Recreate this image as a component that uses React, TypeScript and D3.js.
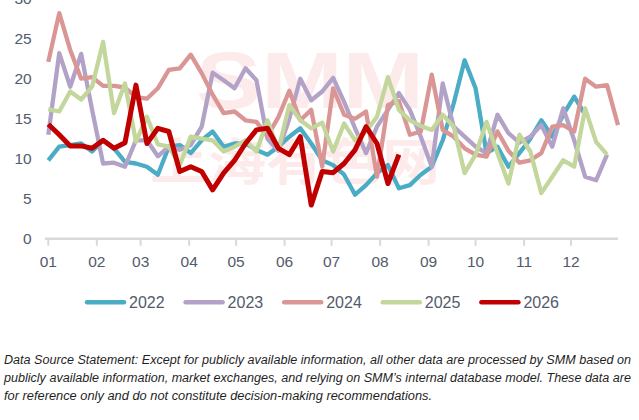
import React from 'react';
import * as d3 from 'd3';

// ---- data ----
const monthLabels = ['01', '02', '03', '04', '05', '06', '07', '08', '09', '10', '11', '12'];
const monthStartDays = [0, 31, 59, 90, 120, 151, 181, 212, 243, 273, 304, 334];
const yTicks = [0, 5, 10, 15, 20, 25, 30];
const seriesNames = ['2022', '2023', '2024', '2025', '2026'];
const seriesColors = ['#4BACC6', '#B3A2C7', '#D99694', '#C3D69B', '#C00000'];

const s2022 = [9.8, 11.5, 11.7, 11.9, 10.9, 12.3, 11.3, 9.6, 9.4, 9.0, 8.0, 11.5, 11.7, 10.7, 12.3, 13.4, 11.5, 11.9, 11.9, 11.1, 10.5, 11.5, 12.75, 13.8, 11.9, 9.8, 9.2, 8.0, 5.5, 6.7, 8.2, 9.2, 6.3, 6.7, 8.0, 9.0, 12.3, 16.9, 22.3, 18.8, 10.7, 11.5, 9.0, 10.7, 12.5, 14.8, 12.75, 15.5, 17.75, 15.5];
const s2023 = [13.0, 23.2, 19.0, 23.1, 16.1, 9.4, 9.5, 9.0, 12.3, 12.3, 10.3, 11.5, 11.1, 11.7, 14.0, 20.75, 19.8, 18.8, 21.3, 19.8, 12.5, 11.0, 15.0, 20.0, 17.3, 18.4, 20.1, 17.1, 13.8, 10.7, 14.0, 16.1, 18.2, 16.1, 12.75, 9.0, 19.4, 14.0, 12.75, 11.5, 10.7, 15.5, 13.2, 12.0, 12.75, 14.2, 11.5, 16.3, 12.3, 7.75, 7.3, 10.5];
const s2024 = [22.1, 28.2, 23.6, 20.0, 20.2, 19.1, 19.1, 18.9, 17.7, 17.5, 18.8, 21.1, 21.3, 23.0, 20.7, 18.0, 15.7, 15.9, 14.8, 14.6, 12.8, 15.2, 18.5, 14.8, 16.1, 9.0, 18.8, 15.5, 15.0, 15.9, 7.75, 16.7, 17.2, 13.0, 13.4, 20.5, 13.6, 12.75, 11.3, 10.5, 10.25, 13.4, 11.0, 9.5, 9.8, 10.7, 14.0, 14.2, 13.4, 20.0, 19.0, 19.2, 14.2];
const s2025 = [16.2, 15.9, 18.4, 17.4, 19.0, 24.6, 15.7, 19.4, 12.1, 15.25, 11.8, 11.5, 9.2, 12.75, 12.5, 12.3, 10.9, 11.5, 12.3, 10.9, 14.8, 11.1, 16.7, 14.8, 13.8, 14.5, 10.9, 14.4, 12.3, 13.4, 15.25, 20.2, 16.1, 14.8, 14.1, 13.6, 15.5, 14.0, 8.2, 10.5, 14.6, 10.7, 6.9, 13.0, 10.9, 5.7, 7.75, 9.8, 9.0, 16.3, 12.1, 10.5];
const s2026 = [14.3, 13.0, 11.6, 11.6, 11.3, 12.3, 11.3, 12.0, 19.2, 11.9, 13.8, 13.4, 8.4, 9.0, 8.4, 6.1, 8.2, 9.8, 11.9, 13.6, 13.8, 11.3, 10.5, 12.75, 4.2, 8.4, 8.25, 9.4, 11.1, 14.0, 11.9, 6.9, 10.5];

const allSeries = [s2022, s2023, s2024, s2025, s2026];

const footnoteLines = [
  'Data Source Statement: Except for publicly available information, all other data are processed by SMM based on',
  "publicly available information, market exchanges, and relying on SMM\u2019s internal database model. These data are",
  'for reference only and do not constitute decision-making recommendations.',
];

const W = 639;
const H = 420;
const FONT = '"Liberation Sans", Arial, sans-serif';
const TEXT_COLOR = '#525b6b';

export default function App() {
  const x = d3.scaleLinear().domain([0, 364]).range([48.3, 618]);
  const y = d3.scaleLinear().domain([0, 30]).range([238.7, -1.3]);
  const line = d3
    .line<number>()
    .x((_, i) => x(i * 7))
    .y((d) => y(d));

  const legendX = d3.scaleBand<string>().domain(seriesNames).range([85, 578]);

  return (
    <svg
      width={W}
      height={H}
      viewBox={`0 0 ${W} ${H}`}
      style={{ position: 'absolute', left: 0, top: 0, background: '#fff' }}
    >
      <rect x={0} y={0} width={W} height={H} fill="#fff" />
      {/* watermark */}
      <g opacity={0.45}>
        <text
          x={196}
          y={108}
          fontFamily={FONT}
          fontWeight="bold"
          fontSize={80}
          fill="#FBD3D3"
          textLength={228}
          lengthAdjust="spacingAndGlyphs"
        >
          SMM
        </text>
        <text
          x={150}
          y={180}
          fontFamily='"Noto Sans CJK SC", sans-serif'
          fontWeight="bold"
          fontSize={50}
          fill="#FBD3D3"
          textLength={290}
          lengthAdjust="spacingAndGlyphs"
        >
          上海有色网
        </text>
      </g>

      {/* y axis labels */}
      {yTicks.map((t) => (
        <text
          key={t}
          x={31.7}
          y={y(t) + 5.5}
          textAnchor="end"
          fontFamily={FONT}
          fontSize={15.5}
          fill={TEXT_COLOR}
        >
          {t}
        </text>
      ))}

      {/* x axis */}
      <line x1={45} x2={618} y1={y(0)} y2={y(0)} stroke="#D9D9D9" strokeWidth={2.5} />
      {monthStartDays.map((d, i) => (
        <g key={monthLabels[i]}>
          <line x1={x(d)} x2={x(d)} y1={y(0)} y2={y(0) + 7} stroke="#D9D9D9" strokeWidth={2} />
          <text
            x={x(d)}
            y={266.7}
            textAnchor="middle"
            fontFamily={FONT}
            fontSize={15.5}
            fill={TEXT_COLOR}
          >
            {monthLabels[i]}
          </text>
        </g>
      ))}

      {/* series */}
      {allSeries.map((s, k) => (
        <path
          key={seriesNames[k]}
          d={line(s) || ''}
          fill="none"
          stroke={seriesColors[k]}
          strokeWidth={k === 4 ? 5 : 4.3}
          strokeLinejoin="round"
          strokeLinecap="butt"
        />
      ))}

      {/* legend */}
      {seriesNames.map((n, k) => {
        const lx = legendX(n) as number;
        return (
          <g key={n}>
            <line
              x1={lx + 2}
              x2={lx + 39}
              y1={302.3}
              y2={302.3}
              stroke={seriesColors[k]}
              strokeWidth={4.5}
              strokeLinecap="round"
            />
            <text x={lx + 44} y={307.8} fontFamily={FONT} fontSize={16} fill={TEXT_COLOR}>
              {n}
            </text>
          </g>
        );
      })}

      {/* footnote */}
      {footnoteLines.map((t, i) => (
        <text
          key={i}
          x={4}
          y={363.5 + i * 18.3}
          fontFamily={FONT}
          fontStyle="italic"
          fontSize={12}
          fill="#1f1f1f"
          textLength={i < 2 ? 627 : 428}
          lengthAdjust="spacingAndGlyphs"
        >
          {t}
        </text>
      ))}
    </svg>
  );
}
